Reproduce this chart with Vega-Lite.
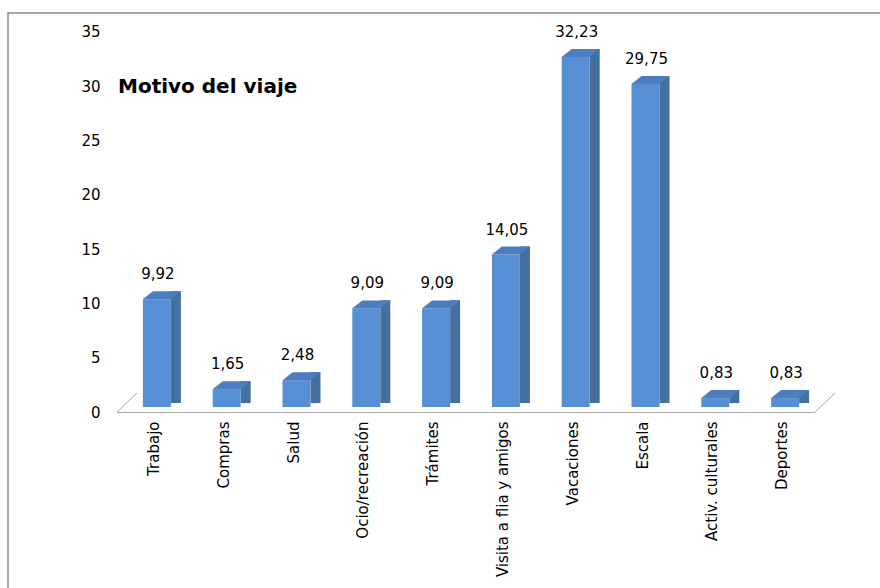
{
  "$schema": "https://vega.github.io/schema/vega-lite/v6.json",
  "autosize": "none",
  "width": 880,
  "height": 590,
  "padding": {"left": 8, "top": 13, "right": 0, "bottom": 0},
  "background": "white",
  "title": {
    "text": "Motivo del viaje",
    "anchor": "start",
    "frame": "group",
    "orient": "top",
    "offset": -84,
    "dx": 110,
    "font": "DejaVu Sans",
    "fontSize": 20,
    "fontWeight": "bold",
    "color": "#000000"
  },
  "config": {
    "view": {"stroke": "#8C8C8C", "strokeWidth": 1.5},
    "locale": {"number": {"decimal": ",", "thousands": ".", "grouping": [3], "currency": ["", " €"]}}
  },
  "data": {
    "values": [
      {"motivo": "Trabajo", "valor": 9.92},
      {"motivo": "Compras", "valor": 1.65},
      {"motivo": "Salud", "valor": 2.48},
      {"motivo": "Ocio/recreación", "valor": 9.09},
      {"motivo": "Trámites", "valor": 9.09},
      {"motivo": "Visita a flia y amigos", "valor": 14.05},
      {"motivo": "Vacaciones", "valor": 32.23},
      {"motivo": "Escala", "valor": 29.75},
      {"motivo": "Activ. culturales", "valor": 0.83},
      {"motivo": "Deportes", "valor": 0.83}
    ]
  },
  "encoding": {
    "x": {
      "field": "motivo",
      "type": "nominal",
      "sort": null,
      "scale": {
        "domain": ["Trabajo", "Compras", "Salud", "Ocio/recreación", "Trámites", "Visita a flia y amigos", "Vacaciones", "Escala", "Activ. culturales", "Deportes"],
        "range": [114, 812],
        "paddingInner": 0,
        "paddingOuter": 0
      },
      "axis": {
        "title": null,
        "orient": "bottom",
        "offset": -184,
        "labelAngle": -90,
        "labelAlign": "right",
        "labelBaseline": "middle",
        "labelPadding": 2,
        "labelOffset": -3,
        "labelFont": "DejaVu Sans",
        "labelFontSize": 15,
        "labelColor": "#000000",
        "labelLimit": 300,
        "domain": false,
        "ticks": false,
        "grid": false
      }
    },
    "y": {
      "field": "valor",
      "type": "quantitative",
      "scale": {"domain": [-18.04, 36.289], "nice": false, "zero": false},
      "axis": {
        "title": null,
        "values": [0, 5, 10, 15, 20, 25, 30, 35],
        "offset": -94,
        "labelPadding": 2,
        "labelOffset": 5,
        "labelFont": "DejaVu Sans",
        "labelFontSize": 15,
        "labelColor": "#000000",
        "domain": false,
        "ticks": false,
        "grid": false
      }
    }
  },
  "layer": [
    {
      "mark": {"type": "bar", "color": "#A6A6A6", "width": {"band": 1}, "xOffset": -5, "yOffset": 5, "y2Offset": 6},
      "encoding": {
        "y": {"datum": 0, "type": "quantitative"},
        "y2": {"datum": 0}
      }
    },
    {
      "transform": [{"filter": "datum.motivo === 'Trabajo'"}],
      "mark": {"type": "point", "shape": "M -1 0.95 L 1 -0.95", "size": 400, "filled": false, "opacity": 1, "strokeWidth": 1, "stroke": "#A6A6A6", "fill": null, "xOffset": -29.9, "yOffset": -4.5},
      "encoding": {
        "y": {"datum": 0, "type": "quantitative"}
      }
    },
    {
      "transform": [{"filter": "datum.motivo === 'Deportes'"}],
      "mark": {"type": "point", "shape": "M -1 0.95 L 1 -0.95", "size": 400, "filled": false, "opacity": 1, "strokeWidth": 1, "stroke": "#A6A6A6", "fill": null, "xOffset": 39.9, "yOffset": -4.5},
      "encoding": {
        "y": {"datum": 0, "type": "quantitative"}
      }
    },
    {
      "mark": {"type": "bar", "color": "#44709F", "width": 10, "xOffset": 19, "yOffset": -8, "y2Offset": -4},
      "encoding": {"y2": {"datum": 0}}
    },
    {
      "mark": {"type": "bar", "color": "#568FD3", "width": 28},
      "encoding": {"y2": {"datum": 0}}
    },
    {
      "mark": {
        "type": "point",
        "shape": "M -1 0 L 0.4737 0 L 1 -0.421 L -0.4737 -0.421 Z",
        "size": 1444,
        "filled": true,
        "opacity": 1,
        "strokeWidth": 0,
        "color": "#4C7DBF",
        "xOffset": 5
      }
    },
    {
      "mark": {"type": "text", "baseline": "alphabetic", "align": "center", "yOffset": -20, "xOffset": 1, "font": "DejaVu Sans", "fontSize": 15, "color": "#000000"},
      "encoding": {"text": {"field": "valor", "type": "quantitative", "format": ".2f"}}
    }
  ]
}
